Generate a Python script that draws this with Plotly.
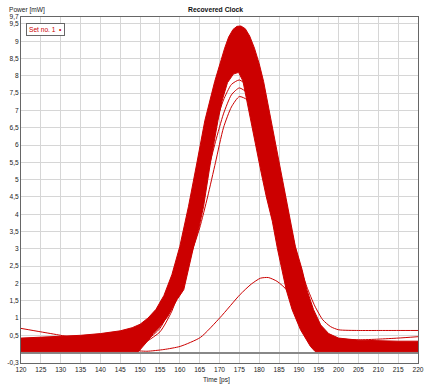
import plotly.graph_objects as go

# ---- data ----
# solid band of overlaid pulses: outer envelope (rising, then falling)
outer_rise_t = [120, 125, 130, 135, 140, 145, 148, 150, 152, 154, 156, 158, 160.0, 162.2, 164.3, 166.3, 168.8, 170.2, 171.3, 172.3, 173.4, 174.4]
outer_rise_v = [0.42, 0.44, 0.47, 0.5, 0.55, 0.63, 0.72, 0.82, 1.0, 1.25, 1.65, 2.25, 3.07, 4.23, 5.48, 6.7, 7.84, 8.4, 8.8, 9.12, 9.34, 9.43]
outer_fall_t = [175.4, 176.5, 177.6, 178.8, 180.0, 181.1, 183.0, 185.0, 187.0, 189.1, 190.8, 192.0, 193.7, 195.5, 197.5, 200, 205, 210, 215, 220]
outer_fall_v = [9.44, 9.36, 9.15, 8.8, 8.35, 7.84, 6.69, 5.48, 4.23, 3.07, 2.4, 1.82, 1.24, 0.8, 0.55, 0.42, 0.36, 0.34, 0.33, 0.33]
# inner (white) region boundary: falling side from floor up, then rising side down
inner_fall_t = [194.1, 192.9, 190.4, 188.3, 186.8, 185.7, 184.6, 183.3, 181.8, 180.5, 179.3, 178.0, 176.9, 175.9, 174.8]
inner_fall_v = [0.03, 0.18, 0.66, 1.24, 1.82, 2.4, 3.0, 3.8, 4.5, 5.2, 5.9, 6.7, 7.26, 7.85, 8.1]
inner_rise_t = [173.5, 172.0, 170.6, 169.6, 168.6, 167.7, 166.0, 164.8, 163.5, 162.2, 161.0, 159.3, 157.0, 155.0, 153.3, 152.0, 150.8, 149.6]
inner_rise_v = [8.05, 7.8, 7.26, 6.7, 6.1, 5.48, 4.23, 3.6, 3.07, 2.4, 1.82, 1.53, 1.05, 0.75, 0.55, 0.35, 0.18, 0.03]
floor_v = 0.03

# individual traces visible outside the solid band
arc_t = [150, 155, 158, 161, 163, 165, 167, 169, 171, 173, 175, 177, 179, 181, 183, 185, 187, 189, 191, 193, 195, 200]
arc1_v = [0.2, 0.6, 1.2, 2.2, 2.9, 3.6, 4.5, 5.5, 6.5, 7.1, 7.4, 7.3, 6.6, 5.6, 4.4, 3.2, 2.1, 1.2, 0.6, 0.25, 0.1, 0.05]
arc2_v = [0.2, 0.7, 1.4, 2.5, 3.3, 4.2, 5.2, 6.1, 6.9, 7.45, 7.65, 7.5, 6.9, 5.9, 4.7, 3.4, 2.3, 1.3, 0.65, 0.3, 0.12, 0.05]
arc3_v = [0.25, 0.8, 1.6, 2.8, 3.7, 4.7, 5.7, 6.6, 7.3, 7.75, 7.88, 7.7, 7.1, 6.1, 4.9, 3.6, 2.4, 1.4, 0.7, 0.3, 0.12, 0.05]

low_t = [120, 125, 130, 135, 140, 145, 148, 151.7, 156, 160.1, 165.2, 170.2, 175.2, 178, 180.3, 182.3, 184.5, 187, 189, 191, 193, 196, 200, 210, 220]
low_v = [0.7, 0.6, 0.5, 0.39, 0.27, 0.14, 0.07, 0.04, 0.09, 0.18, 0.44, 1.02, 1.68, 1.98, 2.15, 2.17, 2.06, 1.8, 1.2, 0.7, 0.38, 0.15, 0.07, 0.06, 0.06]

tail_t = [186, 188, 190, 192, 194, 196, 198, 200, 205, 210, 215, 220]
tail1_v = [4.8, 3.6, 2.6, 1.9, 1.35, 0.95, 0.75, 0.66, 0.64, 0.64, 0.64, 0.64]
tail2_v = [4.6, 3.4, 2.4, 1.6, 1.0, 0.65, 0.47, 0.4, 0.37, 0.39, 0.42, 0.46]

x_ticks = list(range(120, 221, 5))
y_ticks = [-0.3, 0.5, 1, 1.5, 2, 2.5, 3, 3.5, 4, 4.5, 5, 5.5, 6, 6.5, 7, 7.5, 8, 8.5, 9, 9.5, 9.7]
y_labels = ["-0,3", "0,5", "1", "1,5", "2", "2,5", "3", "3,5", "4", "4,5", "5", "5,5",
            "6", "6,5", "7", "7,5", "8", "8,5", "9", "9,5", "9,7"]

RED = "rgb(204,0,0)"
FONT = "Liberation Sans, Arial, sans-serif"

band_x = (outer_rise_t + outer_fall_t + [220] + inner_fall_t + inner_rise_t + [120])
band_y = (outer_rise_v + outer_fall_v + [floor_v] + inner_fall_v + inner_rise_v + [floor_v])

fig = go.Figure()
fig.add_trace(go.Scatter(x=band_x, y=band_y, mode="lines", fill="toself",
                         fillcolor=RED, line=dict(color=RED, width=1),
                         hoverinfo="skip"))
for v in (arc1_v, arc2_v, arc3_v):
    fig.add_trace(go.Scatter(x=arc_t, y=v, mode="lines",
                             line=dict(color=RED, width=1, shape="spline", smoothing=0.6),
                             hoverinfo="skip"))
fig.add_trace(go.Scatter(x=low_t, y=low_v, mode="lines",
                         line=dict(color=RED, width=1, shape="spline", smoothing=0.6),
                         hoverinfo="skip"))
for v in (tail1_v, tail2_v):
    fig.add_trace(go.Scatter(x=tail_t, y=v, mode="lines",
                             line=dict(color=RED, width=1, shape="spline", smoothing=0.6),
                             hoverinfo="skip"))

fig.update_layout(
    width=432, height=385,
    margin=dict(l=21, r=14, t=17, b=22, autoexpand=False),
    paper_bgcolor="white", plot_bgcolor="white",
    showlegend=False,
    font=dict(family=FONT, size=6.6, color="#222"),
    xaxis=dict(range=[120, 220], tickvals=x_ticks, ticktext=[str(t) for t in x_ticks],
               automargin=False,
               showgrid=True, gridcolor="#d6d6d6", gridwidth=1,
               showline=True, linecolor="#666", linewidth=1, mirror=True,
               zeroline=False, ticks="", tickfont=dict(size=6.6, color="#222")),
    yaxis=dict(range=[-0.3, 9.7], tickvals=y_ticks, ticktext=y_labels,
               automargin=False,
               showgrid=True, gridcolor="#d6d6d6", gridwidth=1,
               showline=True, linecolor="#666", linewidth=1, mirror=True,
               zeroline=True, zerolinecolor="#888", zerolinewidth=2,
               ticks="", tickfont=dict(size=6.6, color="#222")),
    annotations=[
        dict(text="<b>Recovered Clock</b>", xref="paper", yref="paper", x=0.5, y=1,
             xanchor="center", yanchor="bottom", xshift=-4, yshift=2, showarrow=False,
             font=dict(size=6.8, color="#111")),
        dict(text="Power [mW]", xref="paper", yref="paper", x=0, y=1,
             xanchor="left", yanchor="bottom", xshift=-14, yshift=1, showarrow=False,
             font=dict(size=6.6, color="#222")),
        dict(text="Time [ps]", xref="paper", yref="paper", x=0.5, y=0,
             xanchor="center", yanchor="top", xshift=-3, yshift=-11, showarrow=False,
             font=dict(size=6.6, color="#222")),
        dict(text="Set no. 1  •", xref="paper", yref="paper", x=0.0126, y=0.983,
             xanchor="left", yanchor="top", showarrow=False,
             bgcolor="white", bordercolor="#666", borderwidth=1, borderpad=2,
             font=dict(size=6.6, color=RED)),
    ],
)

fig.write_html("out.html", config={"displayModeBar": False, "staticPlot": True},
               post_script="document.body.style.margin='0';document.body.style.overflow='hidden';")
